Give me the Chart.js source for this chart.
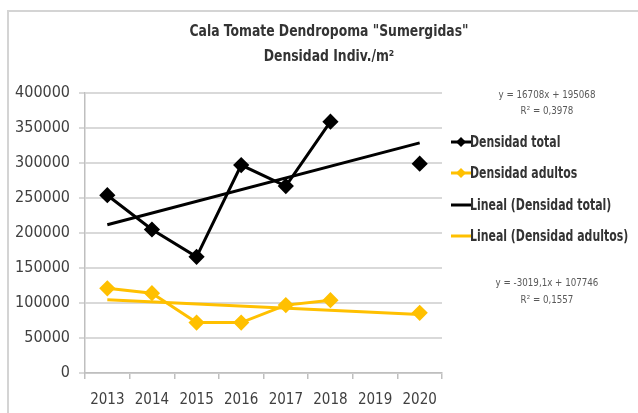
<!DOCTYPE html>
<html>
<head>
<meta charset="utf-8">
<script src="https://cdn.jsdelivr.net/npm/chart.js@4/dist/chart.umd.min.js"></script>
<style>
    body { margin: 0; background: #fff; }
    #wrap { position: relative; width: 638px; height: 413px; }
</style>
</head>
<body>
<div id="wrap"><canvas id="chart0" width="638" height="413"></canvas></div>
<script>
"use strict"

// == data
const years = ["2013", "2014", "2015", "2016", "2017", "2018", "2019", "2020"]
const densidadTotal = [254000, 205000, 166000, 297000, 267000, 359000, null, 299000]
const densidadAdultos = [121000, 114000, 72000, 72000, 97000, 104000, null, 86000]
// trendline end points (2013 and 2020)
const linealTotal = [211800, null, null, null, null, null, null, 328700]
const linealAdultos = [104700, null, null, null, null, null, null, 83600]
const yTicks = [0, 50000, 100000, 150000, 200000, 250000, 300000, 350000, 400000]

const titleLines = ["Cala Tomate Dendropoma \"Sumergidas\"", "Densidad Indiv./m²"]
const eqTotal = ["y = 16708x + 195068", "R² = 0,3978"]
const eqAdultos = ["y = -3019,1x + 107746", "R² = 0,1557"]

const BLACK = "#000000"
const GOLD = "#FFC000"
const FONT = "'Liberation Sans Narrow', 'DejaVu Sans Condensed', 'Liberation Sans', sans-serif"

const legendItems = [
    {text: "Densidad total", color: BLACK, marker: true},
    {text: "Densidad adultos", color: GOLD, marker: true},
    {text: "Lineal (Densidad total)", color: BLACK, marker: false},
    {text: "Lineal (Densidad adultos)", color: GOLD, marker: false},
]


// text squeezed horizontally, to look like the narrow office font
function fillNarrow(ctx, text, x, y, sx) {
    ctx.save()
    ctx.translate(x, y)
    ctx.scale(sx, 1)
    ctx.fillText(text, 0, 0)
    ctx.restore()
}


// draws title, frame, legend and trendline equations
const decorations = {
    id: "decorations",
    afterDraw(chart) {
        let ctx = chart.ctx
        ctx.save()

        // outer frame
        ctx.strokeStyle = "#d4d4d4"
        ctx.lineWidth = 2
        ctx.strokeRect(8, 11, 700, 500)

        // title
        ctx.fillStyle = "#333333"
        ctx.textAlign = "center"
        ctx.textBaseline = "middle"
        ctx.font = "bold 16px " + FONT
        fillNarrow(ctx, titleLines[0], 329, 32, 0.86)
        fillNarrow(ctx, titleLines[1], 329, 57, 0.86)

        // equations
        ctx.fillStyle = "#595959"
        ctx.font = "11px " + FONT
        fillNarrow(ctx, eqTotal[0], 547, 95, 0.88)
        fillNarrow(ctx, eqTotal[1], 547, 111, 0.88)
        fillNarrow(ctx, eqAdultos[0], 547, 283, 0.88)
        fillNarrow(ctx, eqAdultos[1], 547, 300, 0.88)

        // legend
        let rows = [142, 173, 205, 236]
        ctx.textAlign = "left"
        ctx.font = "bold 15px " + FONT
        for (let i = 0; i < legendItems.length; i++) {
            let item = legendItems[i]
            let y = rows[i]
            ctx.strokeStyle = item.color
            ctx.lineWidth = 3
            ctx.beginPath()
            ctx.moveTo(451, y)
            ctx.lineTo(471, y)
            ctx.stroke()
            if (item.marker) {
                ctx.fillStyle = item.color
                ctx.beginPath()
                ctx.moveTo(461, y - 5)
                ctx.lineTo(466, y)
                ctx.lineTo(461, y + 5)
                ctx.lineTo(456, y)
                ctx.closePath()
                ctx.fill()
            }
            ctx.fillStyle = "#333333"
            fillNarrow(ctx, item.text, 470, y + 1, 0.81)
        }
        ctx.restore()
    }
}


function seriesDataset(label, data, color) {
    return {
        label: label,
        data: data,
        borderColor: color,
        backgroundColor: color,
        borderWidth: 3,
        pointStyle: "rectRot",
        pointRadius: 6,
        pointHoverRadius: 6,
        spanGaps: false,
        tension: 0,
    }
}

function trendDataset(label, data, color) {
    return {
        label: label,
        data: data,
        borderColor: color,
        borderWidth: 3,
        pointRadius: 0,
        spanGaps: true,
        tension: 0,
    }
}


function CreateChart() {
    let ctx = document.getElementById("chart0").getContext("2d")
    new Chart(ctx, {
        type: "line",
        data: {
            labels: years,
            datasets: [
                trendDataset("Lineal (Densidad adultos)", linealAdultos, GOLD),
                seriesDataset("Densidad adultos", densidadAdultos, GOLD),
                seriesDataset("Densidad total", densidadTotal, BLACK),
                trendDataset("Lineal (Densidad total)", linealTotal, BLACK),
            ]
        },
        options: {
            responsive: false,
            animation: false,
            layout: {
                padding: {top: 93, right: 196, bottom: 0, left: 0}
            },
            plugins: {
                legend: {display: false},
                title: {display: false},
                tooltip: {enabled: false},
            },
            scales: {
                x: {
                    offset: true,
                    afterFit: function(scale) { scale.height = 40 },
                    grid: {
                        offset: true,
                        drawOnChartArea: false,
                        drawTicks: true,
                        tickLength: 6,
                        color: "#bfbfbf",
                        lineWidth: 1.5,
                    },
                    border: {color: "#bfbfbf", width: 1.5},
                    ticks: {
                        color: "#404040",
                        padding: 12,
                        maxRotation: 0,
                        font: {family: FONT, size: 15},
                    },
                },
                y: {
                    min: 0,
                    max: 400000,
                    afterFit: function(scale) { scale.width = 85 },
                    afterBuildTicks: function(scale) {
                        scale.ticks = yTicks.map(v => ({value: v}))
                    },
                    grid: {
                        color: "#d9d9d9",
                        lineWidth: 2,
                        tickLength: 6,
                    },
                    border: {color: "#bfbfbf", width: 1.5},
                    ticks: {
                        color: "#404040",
                        padding: 9,
                        font: {family: FONT, size: 16},
                        callback: v => String(v),
                    },
                },
            },
        },
        plugins: [decorations],
    })
}

CreateChart()
</script>
</body>
</html>
